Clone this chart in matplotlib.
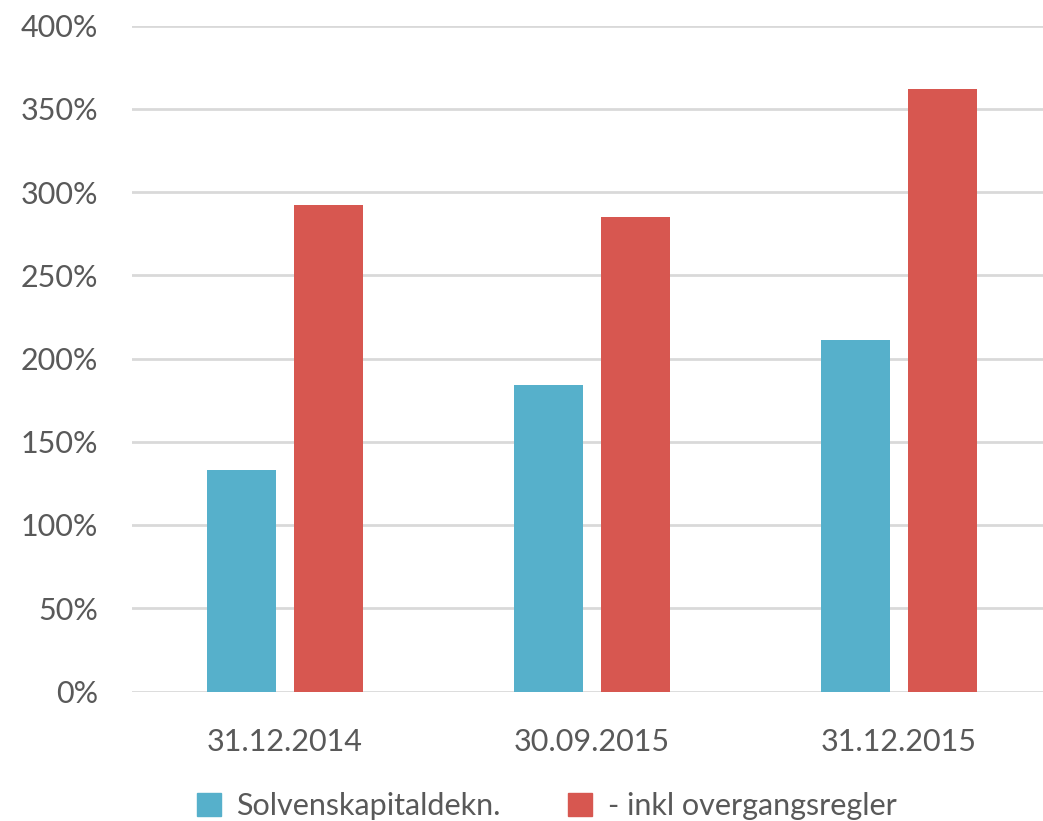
import numpy as np
import matplotlib.pyplot as plt
from matplotlib.patches import Patch

datoer = ['31.12.2014', '30.09.2015', '31.12.2015']
solvens = [133, 184, 211]
inkl_overgang = [292, 285, 362]
y_ticks = [0, 50, 100, 150, 200, 250, 300, 350, 400]

blaa = '#56b0cb'
roed = '#d75750'
tekst = '#595959'

plt.rcParams['font.family'] = ['Lato', 'DejaVu Sans']

fig = plt.figure(figsize=(10.43, 8.21), dpi=100)
ax = fig.add_axes([131.5 / 1043, 1 - 691.5 / 821, 920.5 / 1043, 666 / 821])

x = np.arange(len(datoer))
bredde = 0.225
ax.bar(x - 0.1418, solvens, bredde, color=blaa, zorder=3)
ax.bar(x + 0.1418, inkl_overgang, bredde, color=roed, zorder=3)

ax.set_xlim(-0.5, 2.5)
ax.set_ylim(0, 400)
ax.set_yticks(y_ticks)
ax.set_yticklabels([f'{v}%' for v in y_ticks])
ax.set_xticks(x)
ax.set_xticklabels(datoer)
ax.grid(axis='y', color='#d9d9d9', linewidth=2, zorder=0)
ax.tick_params(axis='both', length=0, labelsize=22, colors=tekst)
ax.tick_params(axis='y', pad=24)
ax.tick_params(axis='x', pad=26)
for s in ax.spines.values():
    s.set_visible(False)

handles = [Patch(color=blaa, label='Solvenskapitaldekn.'),
           Patch(color=roed, label='- inkl overgangsregler')]
fig.legend(handles=handles, loc='center', bbox_to_anchor=(0.524, 0.018), ncol=2,
           frameon=False, fontsize=22, labelcolor=tekst, handlelength=0.8,
           handleheight=0.8, handletextpad=0.5, columnspacing=2.2)

fig.savefig('out.png', dpi=100)
